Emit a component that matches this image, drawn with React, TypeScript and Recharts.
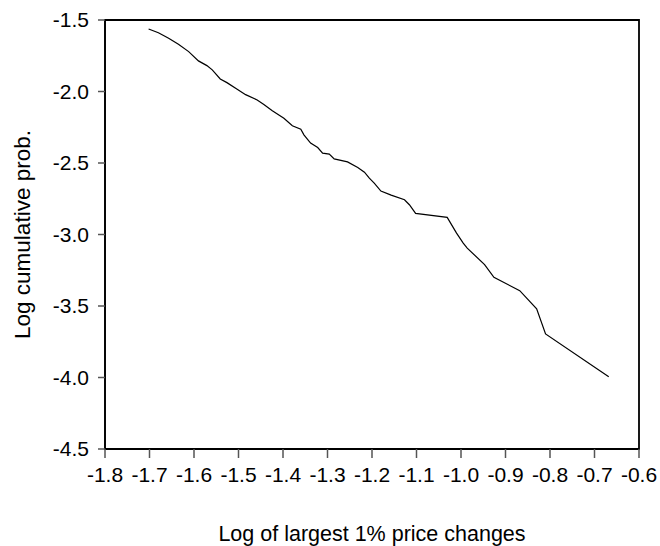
import React from 'react';
import { LineChart, Line, XAxis, YAxis, ReferenceArea } from 'recharts';

// log of the largest 1% price changes
const logChange = [
  -1.702, -1.68, -1.657, -1.635, -1.612, -1.59, -1.571, -1.559, -1.541, -1.526,
  -1.503, -1.484, -1.458, -1.443, -1.424, -1.398, -1.379, -1.36, -1.353, -1.338,
  -1.322, -1.311, -1.296, -1.285, -1.255, -1.232, -1.217, -1.206, -1.195, -1.18,
  -1.157, -1.127, -1.116, -1.102, -1.031, -1.01, -0.995, -0.986, -0.947, -0.926,
  -0.868, -0.83, -0.81, -0.668,
];

// log of the cumulative probability
const logProb = [
  -1.563, -1.589, -1.628, -1.67, -1.721, -1.786, -1.819, -1.849, -1.912, -1.938,
  -1.984, -2.022, -2.059, -2.091, -2.135, -2.187, -2.24, -2.263, -2.303, -2.361,
  -2.392, -2.431, -2.438, -2.471, -2.492, -2.531, -2.564, -2.606, -2.641, -2.696,
  -2.725, -2.757, -2.792, -2.852, -2.88, -2.99, -3.06, -3.095, -3.211, -3.3,
  -3.393, -3.52, -3.695, -3.995,
];

const xTicks = [-1.8, -1.7, -1.6, -1.5, -1.4, -1.3, -1.2, -1.1, -1.0, -0.9, -0.8, -0.7, -0.6];
const yTicks = [-4.5, -4.0, -3.5, -3.0, -2.5, -2.0, -1.5];

const data = logChange.map((x, i) => ({ x, y: logProb[i] }));

const family = '"Liberation Sans", Arial, sans-serif';
const tickFont = { fontFamily: family, fontSize: 21, fill: '#000' };

const App: React.FC = () => {
  return (
    <div style={{ position: 'absolute', left: 0, top: 0, width: 660, height: 546, background: '#fff' }}>
      <LineChart width={660} height={546} data={data} margin={{ top: 20, right: 21, bottom: 0, left: 0 }}>
        <XAxis
          dataKey="x"
          type="number"
          domain={[-1.8, -0.6]}
          ticks={xTicks}
          interval={0}
          tickFormatter={(v: number) => v.toFixed(1)}
          height={97}
          stroke="#000"
          strokeWidth={1.5}
          tickSize={9}
          tickMargin={9}
          tickLine={{ stroke: '#555' }}
          tick={tickFont}
          label={{
            value: 'Log of largest 1% price changes',
            position: 'insideBottom',
            offset: 5,
            style: { fontFamily: family, fontSize: 21.5, fill: '#000' },
          }}
        />
        <YAxis
          type="number"
          domain={[-4.5, -1.5]}
          ticks={yTicks}
          interval={0}
          tickFormatter={(v: number) => v.toFixed(1)}
          width={105}
          stroke="#000"
          strokeWidth={1.5}
          tickSize={7}
          tickMargin={9}
          tickLine={{ stroke: '#555' }}
          tick={tickFont}
          label={{
            value: 'Log cumulative prob.',
            angle: -90,
            position: 'insideLeft',
            offset: 22,
            style: { fontFamily: family, fontSize: 22.5, fill: '#000', textAnchor: 'middle' },
          }}
        />
        {/* box around the plot area */}
        <ReferenceArea x1={-1.8} x2={-0.6} y1={-4.5} y2={-1.5} stroke="#000" strokeWidth={1.8} fill="none" fillOpacity={0} ifOverflow="visible" />
        <Line dataKey="y" type="linear" stroke="#000" strokeWidth={1.2} dot={false} isAnimationActive={false} />
      </LineChart>
    </div>
  );
};

export default App;
